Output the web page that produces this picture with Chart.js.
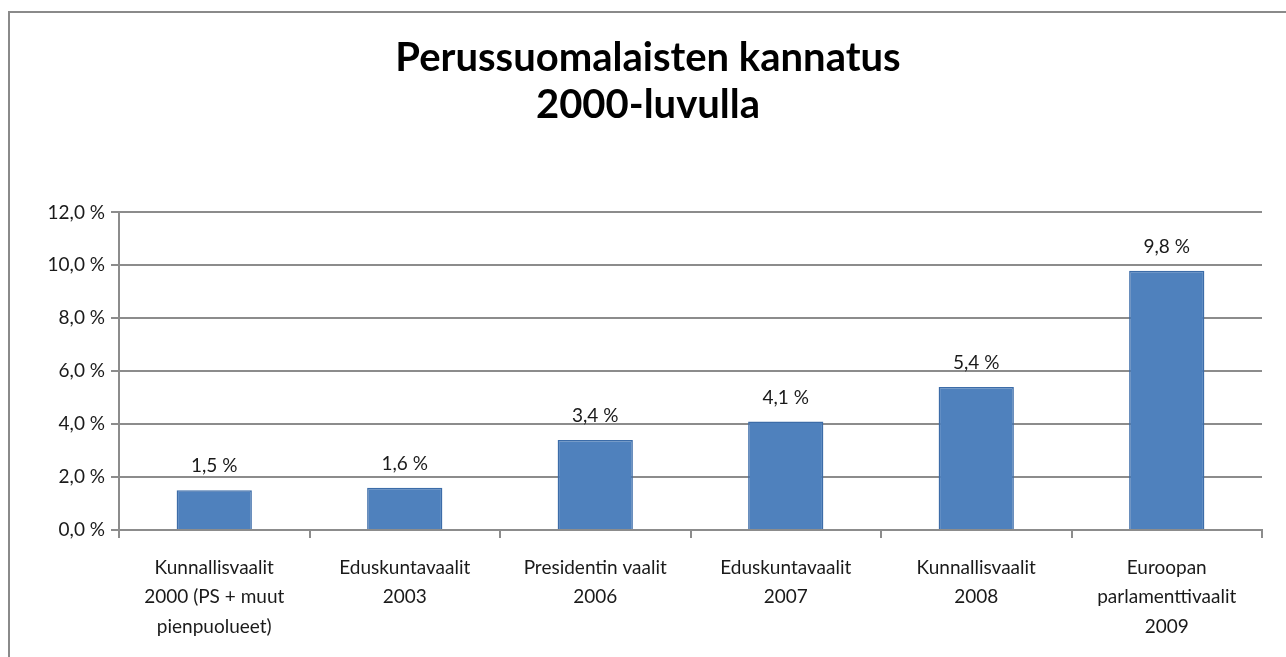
<!DOCTYPE html>
<html lang="fi">
<head>
  <meta charset="UTF-8">
  <title>Perussuomalaisten kannatus</title>
  <script src="https://cdn.jsdelivr.net/npm/chart.js"></script>
  <style>
    html, body { margin: 0; padding: 0; background: #fff; }
    .frame {
      position: absolute;
      left: 8px; top: 11px;
      width: 1300px; height: 700px;
      border: 2px solid #8a8a8a;
      box-sizing: border-box;
    }
    #wrap { position: absolute; left: 0; top: 0; width: 1286px; height: 657px; }
  </style>
</head>
<body>
  <div class="frame"></div>
  <div id="wrap"><canvas id="chart" width="1286" height="657"></canvas></div>

  <script>
    // data
    const categories = [
      ['Kunnallisvaalit', '2000 (PS + muut', 'pienpuolueet)'],
      ['Eduskuntavaalit', '2003'],
      ['Presidentin vaalit', '2006'],
      ['Eduskuntavaalit', '2007'],
      ['Kunnallisvaalit', '2008'],
      ['Euroopan', 'parlamenttivaalit', '2009']
    ];
    const support = [1.5, 1.6, 3.4, 4.1, 5.4, 9.8];
    const yTicks = [0, 2, 4, 6, 8, 10, 12];

    const fmt = v => v.toFixed(1).replace('.', ',') + ' %';
    const font = 'Lato, "Open Sans", sans-serif';

    // simple value labels above bars
    const barLabels = {
      id: 'barLabels',
      afterDatasetsDraw(chart) {
        const ctx = chart.ctx;
        const meta = chart.getDatasetMeta(0);
        ctx.save();
        ctx.font = '19px ' + font;
        ctx.fillStyle = '#1a1a1a';
        ctx.textAlign = 'center';
        ctx.textBaseline = 'middle';
        meta.data.forEach((bar, i) => {
          ctx.fillText(fmt(support[i]), bar.x, bar.y - 24);
        });
        ctx.restore();
      }
    };

    new Chart(document.getElementById('chart'), {
      type: 'bar',
      data: {
        labels: categories,
        datasets: [{
          data: support,
          backgroundColor: '#4f81bd',
          borderColor: '#3c6ca8',
          borderWidth: 1.5,
          categoryPercentage: 0.79,
          barPercentage: 0.5
        }]
      },
      options: {
        responsive: false,
        animation: false,
        // left padding keeps the title centred like the original
        layout: { padding: { left: 34, right: 24, bottom: 0 } },
        plugins: {
          legend: { display: false },
          tooltip: { enabled: false },
          title: {
            display: true,
            text: ['Perussuomalaisten kannatus', '2000-luvulla'],
            color: '#000',
            font: { family: font, size: 40, weight: 'bold', lineHeight: 1.18 },
            padding: { top: 34, bottom: 84 }
          }
        },
        scales: {
          y: {
            min: 0,
            max: 12,
            afterBuildTicks: s => { s.ticks = yTicks.map(v => ({ value: v })); },
            afterFit: s => { s.width = 85; },
            ticks: {
              callback: v => fmt(v),
              color: '#1a1a1a',
              font: { family: font, size: 19 },
              padding: 6
            },
            grid: { color: '#8c8c8c', lineWidth: 2, tickLength: 8 },
            border: { color: '#8c8c8c', width: 2 }
          },
          x: {
            afterFit: s => { s.height = 127; },
            ticks: {
              color: '#1a1a1a',
              font: { family: font, size: 19, lineHeight: 1.55 },
              padding: 15,
              maxRotation: 0,
              autoSkip: false
            },
            grid: { drawOnChartArea: false, color: '#8c8c8c', lineWidth: 2, tickLength: 8, offset: true },
            border: { color: '#8c8c8c', width: 2 }
          }
        }
      },
      plugins: [barLabels]
    });
  </script>
</body>
</html>
